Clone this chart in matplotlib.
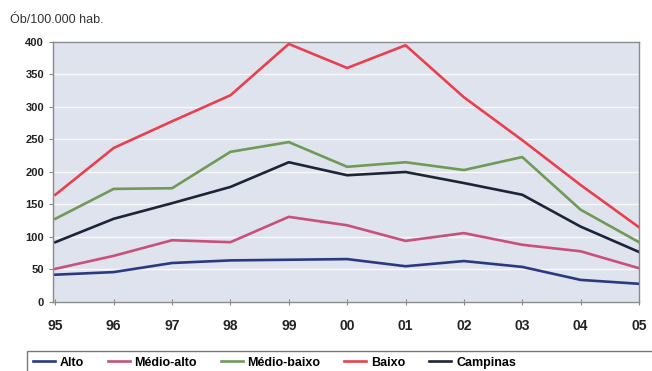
import matplotlib
matplotlib.use("Agg")
import matplotlib.pyplot as plt
from matplotlib.patches import Rectangle

# Mortality rate per 100,000 inhabitants by socioeconomic stratum, 1995-2005
years = ["95", "96", "97", "98", "99", "00", "01", "02", "03", "04", "05"]
alto = [42, 46, 60, 64, 65, 66, 55, 63, 54, 34, 28]
medio_alto = [51, 71, 95, 92, 131, 118, 94, 106, 88, 78, 52]
medio_baixo = [128, 174, 175, 231, 246, 208, 215, 203, 223, 142, 92]
baixo = [165, 237, 278, 318, 397, 360, 395, 315, 249, 180, 115]
campinas = [92, 128, 152, 177, 215, 195, 200, 183, 165, 116, 77]

series = [
    ("Alto", alto, "#2b3a80"),
    ("Médio-alto", medio_alto, "#c9507a"),
    ("Médio-baixo", medio_baixo, "#6f9a58"),
    ("Baixo", baixo, "#e8404f"),
    ("Campinas", campinas, "#1c2438"),
]

plt.rcParams["font.family"] = ["Liberation Sans", "DejaVu Sans"]

fig = plt.figure(figsize=(6.52, 3.71), dpi=100)
ax = fig.add_axes([0.0813, 0.186, 0.8987, 0.7008])
ax.set_facecolor("#dfe3ee")

x = list(range(len(years)))
handles = []
for name, vals, color in series:
    (h,) = ax.plot(x, vals, color=color, lw=1.9, label=name, solid_joinstyle="round")
    handles.append(h)

ax.set_xlim(-0.04, 10)
ax.set_ylim(0, 400)
ax.set_yticks(range(0, 401, 50))
ax.set_xticks(x)
ax.set_xticklabels(years, fontsize=10, fontweight="bold", color="#222222")
ax.tick_params(axis="y", labelsize=8, length=3, color="#888888", labelcolor="#222222")
for lbl in ax.get_yticklabels():
    lbl.set_fontweight("bold")
ax.tick_params(axis="x", length=4, direction="inout", color="#888888", pad=10)
ax.grid(axis="y", color="white", lw=1.0, alpha=0.8)
ax.set_axisbelow(True)
for side in ["top", "right", "left", "bottom"]:
    ax.spines[side].set_color("#8a8a8a")
    ax.spines[side].set_linewidth(1.0)

fig.text(10 / 652, 1 - 20 / 371, "Ób/100.000 hab.", fontsize=9, color="#333333",
         va="center", ha="left")

# Legend box running off the right and bottom edges of the figure
fig.patches.append(Rectangle((27 / 652, -0.05), 1.0, 0.05 + (371 - 351) / 371,
                             transform=fig.transFigure, facecolor="white",
                             edgecolor="#777777", lw=1.0, zorder=0))

leg = fig.legend(handles=handles, loc="upper left", ncol=5,
                 bbox_to_anchor=(29 / 652, 1 - 353 / 371),
                 frameon=False,
                 prop={"size": 9, "weight": "bold"}, handlelength=1.75,
                 handletextpad=0.4, columnspacing=1.9, borderpad=0.3,
                 borderaxespad=0.0)

fig.savefig("out.png", dpi=100, facecolor="white")
